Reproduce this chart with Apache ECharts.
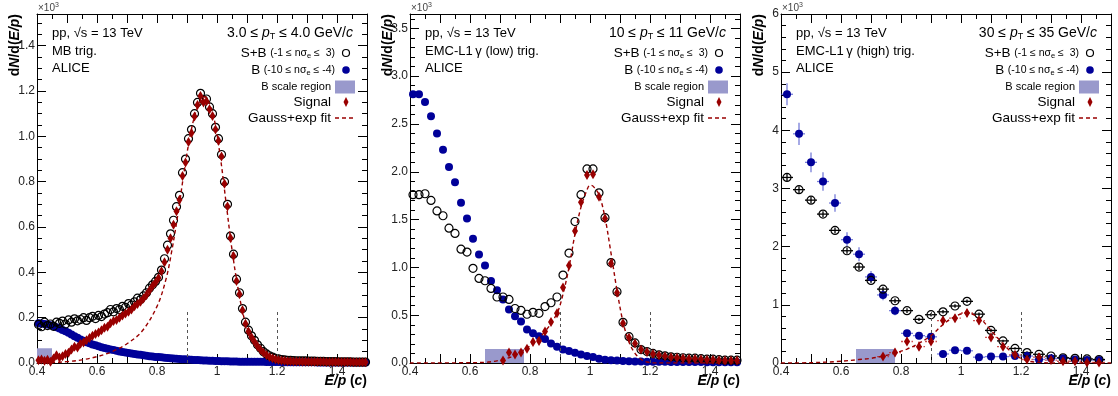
<!DOCTYPE html>
<html>
<head>
<meta charset="utf-8">
<script src="https://cdn.jsdelivr.net/npm/echarts@6/dist/echarts.min.js"></script>
<style>
  html, body { margin: 0; padding: 0; background: #fff; }
  #chart { width: 1118px; height: 396px; }
</style>
</head>
<body>
<div id="chart"></div>
<script>
// ---- data (units of 10^3 counts) ----
const binStart = [0.405, 0.41, 0.42];
const binWidth = [0.01, 0.02, 0.04];

// panel 1: MB trigger, 3 < pT < 4 GeV/c
const sb1 = [
  .170,.160,.180,.165,.172,.162,.180,.175,.185,.172,
  .190,.180,.195,.186,.192,.200,.188,.200,.206,.196,
  .210,.205,.216,.222,.236,.226,.240,.236,.250,.246,
  .262,.256,.270,.286,.280,.296,.310,.330,.345,.360,
  .378,.410,.460,.520,.570,.630,.690,.740,.840,.900,
  .990,1.030,1.100,1.150,1.190,1.160,1.165,1.130,1.100,1.040,
  .990,.920,.800,.700,.560,.480,.370,.310,.240,.180,
  .145,.120,.100,.080,.065,.050,.040,.032,.026,.021,
  .018,.015,.014,.012,.012,.011,.010,.010,.009,.009,
  .008,.008,.008,.007,.007,.007,.006,.006,.006,.006,
  .005,.005,.005,.005,.005,.004,.004,.004,.004,.004
];
const b1 = [
  .175,.174,.172,.170,.167,.163,.158,.152,.146,.140,
  .133,.126,.118,.111,.104,.098,.092,.087,.082,.078,
  .074,.070,.066,.063,.060,.057,.054,.051,.049,.046,
  .044,.042,.040,.038,.036,.034,.032,.030,.029,.027,
  .026,.025,.023,.022,.021,.020,.019,.018,.017,.016,
  .015,.014,.013,.013,.012,.011,.011,.010,.010,.009,
  .009,.008,.008,.008,.007,.007,.007,.006,.006,.006,
  .006,.005,.005,.005,.005,.005,.004,.004,.004,.004,
  .004,.004,.003,.003,.003,.003,.003,.003,.003,.003,
  .003,.003,.003,.002,.002,.002,.002,.002,.002,.002,
  .002,.002,.002,.002,.002,.002,.002,.002,.002,.002
];
const sig1 = [
  .012,.015,.010,.014,.006,.020,.034,.024,.030,.040,
  .045,.060,.072,.068,.085,.090,.100,.110,.120,.128,
  .135,.145,.155,.160,.175,.185,.190,.200,.210,.218,
  .226,.236,.250,.260,.270,.285,.300,.320,.340,.355,
  .375,.405,.445,.500,.550,.610,.670,.720,.825,.885,
  .975,1.015,1.088,1.138,1.178,1.150,1.155,1.120,1.090,1.030,
  .981,.911,.791,.691,.552,.472,.362,.303,.233,.173,
  .139,.114,.094,.074,.059,.045,.035,.027,.021,.016,
  .013,.011,.010,.008,.008,.007,.007,.007,.006,.006,
  .005,.005,.005,.005,.005,.005,.004,.004,.004,.004,
  .004,.004,.004,.004,.004,.003,.003,.003,.003,.003
];
const fit1 = [
  [0.40,0],[0.45,0.002],[0.50,0.006],[0.55,0.014],[0.60,0.028],[0.65,0.05],
  [0.70,0.085],[0.75,0.14],[0.80,0.25],[0.83,0.37],[0.85,0.50],[0.87,0.66],
  [0.89,0.84],[0.91,1.00],[0.93,1.11],[0.95,1.165],[0.96,1.175],[0.97,1.16],
  [0.99,1.08],[1.01,0.92],[1.03,0.71],[1.05,0.50],[1.07,0.33],[1.09,0.20],
  [1.11,0.12],[1.13,0.07],[1.15,0.04],[1.17,0.025],[1.20,0.012],[1.25,0.004],
  [1.30,0.001],[1.50,0]
];

// panel 2: EMC-L1 gamma (low), 10 < pT < 11 GeV/c
const sb2 = [
  1.76,1.76,1.77,1.70,1.59,1.54,1.41,1.355,1.19,1.16,
  0.99,0.885,0.86,0.78,0.69,0.69,0.665,0.57,0.55,0.51,
  0.53,0.52,0.59,0.63,0.69,0.92,1.15,1.48,1.76,2.03,
  2.03,1.78,1.52,1.05,0.745,0.425,0.275,0.21,0.14,0.12,
  0.10,0.085,0.075,0.065,0.06,0.055,0.05,0.05,0.045,0.04,
  0.04,0.035,0.03,0.03,0.03
];
const b2 = [
  2.81,2.81,2.73,2.58,2.40,2.23,2.05,1.89,1.675,1.51,
  1.30,1.135,1.02,0.857,0.76,0.665,0.56,0.49,0.435,0.35,
  0.31,0.28,0.25,0.205,0.17,0.14,0.125,0.108,0.09,0.073,
  0.063,0.045,0.035,0.028,0.025,0.02,0.018,0.016,0.015,0.014,
  0.013,0.012,0.012,0.011,0.011,0.01,0.01,0.01,0.01,0.009,
  0.009,0.009,0.008,0.008,0.008
];
const sig2 = [
  null,null,null,null,null,null,null,null,null,null,
  null,null,null,null,null,0.025,0.11,0.09,0.11,0.15,
  0.22,0.23,0.33,0.43,0.52,0.79,1.02,1.38,1.68,1.965,
  1.975,1.74,1.51,1.04,0.735,0.415,0.265,0.205,0.14,0.115,
  0.095,0.08,0.07,0.06,0.055,0.05,0.045,0.045,0.04,0.035,
  0.035,0.03,0.025,0.025,0.025
];
const fit2 = [
  [0.40,0],[0.60,0.003],[0.66,0.01],[0.70,0.03],[0.75,0.08],[0.80,0.18],
  [0.85,0.33],[0.89,0.52],[0.91,0.72],[0.93,1.0],[0.95,1.35],[0.97,1.63],
  [0.99,1.81],[1.00,1.86],[1.01,1.85],[1.03,1.76],[1.05,1.52],[1.07,1.15],
  [1.09,0.76],[1.11,0.43],[1.13,0.22],[1.15,0.10],[1.17,0.04],[1.19,0.01],
  [1.22,0],[1.50,0]
];

// panel 3: EMC-L1 gamma (high), 30 < pT < 35 GeV/c
const sb3 = [
  3.19,2.98,2.80,2.56,2.28,1.93,1.65,1.42,1.27,
  1.07,0.90,0.75,0.83,0.88,0.98,1.06,0.84,0.56,
  0.38,0.25,0.18,0.15,0.12,0.09,0.08,0.07,0.06
];
const sb3Err = [
  0.06,0.06,0.06,0.05,0.05,0.05,0.05,0.04,0.04,
  0.04,0.04,0.03,0.03,0.03,0.03,0.03,0.03,0.03,
  0.02,0.02,0.02,0.02,0.02,0.02,0.02,0.02,0.02
];
const b3 = [
  4.62,3.94,3.45,3.12,2.75,2.12,1.87,1.48,1.17,
  0.90,0.51,0.47,0.45,0.155,0.22,0.21,0.10,0.11,
  0.11,0.12,0.12,0.06,0.08,0.08,0.06,0.05,0.05
];
const b3Err = [
  0.19,0.19,0.17,0.16,0.15,0.13,0.12,0.10,0.09,
  0.08,0.06,0.06,0.06,0.04,0.04,0.04,0.03,0.03,
  0.03,0.03,0.03,0.02,0.02,0.02,0.02,0.02,0.02
];
const sig3 = [
  null,null,null,null,null,null,null,null,0.11,
  0.18,0.37,0.28,0.37,0.73,0.77,0.86,0.73,0.44,
  0.28,0.14,0.06,0.10,0.05,0.03,0.03,0.01,0.01
];
const sig3Err = [
  0,0,0,0,0,0,0,0,0.06,
  0.07,0.09,0.09,0.09,0.08,0.07,0.07,0.07,0.06,
  0.05,0.05,0.04,0.04,0.04,0.03,0.03,0.03,0.03
];
const fit3 = [
  [0.40,0],[0.50,0.005],[0.60,0.03],[0.66,0.06],[0.70,0.08],[0.74,0.12],
  [0.78,0.17],[0.82,0.24],[0.86,0.34],[0.90,0.47],[0.94,0.66],[0.98,0.80],
  [1.02,0.86],[1.06,0.78],[1.10,0.56],[1.14,0.33],[1.18,0.14],[1.22,0.04],
  [1.26,0.01],[1.30,0],[1.50,0]
];

// per-panel settings
const yMax = [1.54, 3.65, 6];
const yStep = [0.2, 0.5, 1];
const yMinor = [4, 5, 5];
const yDigits = [1, 1, 0];
const scaleRegion = [[0.40, 0.45, 0.065], [0.65, 0.78, 0.146], [0.65, 0.78, 0.24]];
const cutLines = [0.9, 1.2];
const cutHeight = [0.23, 0.55, 0.9];
const trigLabels = ['MB trig.', 'EMC-L1\u2009γ (low) trig.', 'EMC-L1\u2009γ (high) trig.'];
const ptRanges = [['3.0', '4.0'], ['10', '11'], ['30', '35']];

// ---- layout ----
const gridLeft = [37, 410, 781];
const gridWidth = 330;
const gridTop = 14;
const gridHeight = 349;
const FONT = '"Liberation Sans", Arial, Helvetica, sans-serif';
const BLUE = '#000099';
const RED = '#990000';

const chart = echarts.init(document.getElementById('chart'));

const centers = (i, n) =>
  Array.from({ length: n }, (_, k) => +(binStart[i] + k * binWidth[i]).toFixed(4));
const pairs = (xs, ys) =>
  xs.map((x, k) => (ys[k] == null ? null : [x, ys[k]])).filter(Boolean);

const onStep = (v, step) => Math.abs(v / step - Math.round(v / step)) < 1e-6;

const tickStyle = { color: '#000', width: 1 };

const xAxes = [];
const yAxes = [];
[0, 1, 2].forEach(i => {
  xAxes.push({
    type: 'value', gridIndex: i, min: 0.4, max: 1.5, interval: 0.1, position: 'bottom',
    axisLine: { show: true, onZero: false, lineStyle: { color: '#000', width: 1 } },
    axisTick: { show: true, inside: true, length: 9, lineStyle: tickStyle },
    minorTick: { show: true, splitNumber: 2, length: 5, lineStyle: tickStyle },
    splitLine: { show: false },
    axisLabel: {
      color: '#222', fontSize: 12, fontFamily: FONT, margin: 3,
      formatter: v => (onStep(v, 0.2) && v < 1.45 ? String(+v.toFixed(1)) : '')
    }
  });
});
[0, 1, 2].forEach(i => {
  xAxes.push({
    type: 'value', gridIndex: i, min: 0.4, max: 1.5, interval: 0.1, position: 'top',
    axisLine: { show: true, onZero: false, lineStyle: { color: '#000', width: 1 } },
    axisTick: { show: true, inside: true, length: 9, lineStyle: tickStyle },
    minorTick: { show: true, splitNumber: 2, length: 5, lineStyle: tickStyle },
    axisLabel: { show: false },
    splitLine: { show: false }
  });
});
[0, 1, 2].forEach(i => {
  yAxes.push({
    type: 'value', gridIndex: i, min: 0, max: yMax[i], interval: yStep[i], position: 'left',
    axisLine: { show: true, onZero: false, lineStyle: { color: '#000', width: 1 } },
    axisTick: { show: true, inside: true, length: 9, lineStyle: tickStyle },
    minorTick: { show: true, splitNumber: yMinor[i], length: 5, lineStyle: tickStyle },
    splitLine: { show: false },
    axisLabel: {
      color: '#222', fontSize: 12, fontFamily: FONT, margin: 2,
      formatter: v => (onStep(v, yStep[i]) ? v.toFixed(yDigits[i]) : '')
    }
  });
});
[0, 1, 2].forEach(i => {
  yAxes.push({
    type: 'value', gridIndex: i, min: 0, max: yMax[i], interval: yStep[i], position: 'right',
    axisLine: { show: true, onZero: false, lineStyle: { color: '#000', width: 1 } },
    axisTick: { show: true, inside: true, length: 9, lineStyle: tickStyle },
    minorTick: { show: true, splitNumber: yMinor[i], length: 5, lineStyle: tickStyle },
    splitLine: { show: false },
    axisLabel: { show: false }
  });
});

function errorBars(i, xs, ys, halfWidth, errs, color, dash, z) {
  const data = xs.map((x, k) => (ys[k] == null ? null : [x, ys[k], halfWidth, errs[k]])).filter(Boolean);
  return {
    type: 'custom', xAxisIndex: i, yAxisIndex: i, z: z, silent: true, clip: true,
    encode: { x: 0, y: 1 },
    data: data,
    renderItem: (params, api) => {
      const x = api.value(0), y = api.value(1), ex = api.value(2), ey = api.value(3);
      const l = api.coord([x - ex, y]);
      const r = api.coord([x + ex, y]);
      const t = api.coord([x, y + ey]);
      const b = api.coord([x, Math.max(0, y - ey)]);
      const style = { stroke: color, lineWidth: 1.3, lineDash: dash };
      return {
        type: 'group',
        children: [
          { type: 'line', shape: { x1: l[0], y1: l[1], x2: r[0], y2: r[1] }, style: style },
          { type: 'line', shape: { x1: t[0], y1: t[1], x2: b[0], y2: b[1] }, style: style }
        ]
      };
    }
  };
}

function panelSeries(i, sb, b, sig, fit) {
  const xs = centers(i, sb.length);
  return [
    {
      type: 'scatter', xAxisIndex: i, yAxisIndex: i, data: [], z: 1, silent: true,
      markArea: {
        silent: true, itemStyle: { color: '#9999cc' },
        data: [[{ coord: [scaleRegion[i][0], 0] }, { coord: [scaleRegion[i][1], scaleRegion[i][2]] }]]
      },
      markLine: {
        silent: true, symbol: ['none', 'none'], label: { show: false },
        lineStyle: { color: '#555', width: 1, type: [3, 3] },
        data: cutLines.map(c => [{ coord: [c, 0] }, { coord: [c, cutHeight[i]] }])
      }
    },
    {
      type: 'scatter', xAxisIndex: i, yAxisIndex: i, z: 3, silent: true,
      data: pairs(xs, b), symbol: 'circle', symbolSize: 8,
      itemStyle: { color: BLUE, opacity: 1 }
    },
    {
      type: 'scatter', xAxisIndex: i, yAxisIndex: i, z: 4, silent: true,
      data: pairs(xs, sb), symbol: 'circle', symbolSize: 8,
      itemStyle: { color: 'rgba(0,0,0,0)', borderColor: '#000', borderWidth: 1.2, opacity: 1 }
    },
    {
      type: 'scatter', xAxisIndex: i, yAxisIndex: i, z: 5, silent: true,
      data: pairs(xs, sig), symbol: 'diamond', symbolSize: [6, 10],
      itemStyle: { color: RED, opacity: 1 }
    },
    {
      type: 'line', xAxisIndex: i, yAxisIndex: i, z: 6, silent: true,
      data: fit, smooth: 0.35, showSymbol: false, symbol: 'none',
      lineStyle: { color: RED, width: 1.4, type: [4, 3] }
    }
  ];
}

const x3 = centers(2, sb3.length);
const series = [].concat(
  panelSeries(0, sb1, b1, sig1, fit1),
  panelSeries(1, sb2, b2, sig2, fit2),
  panelSeries(2, sb3, b3, sig3, fit3),
  [
    errorBars(2, x3, b3, 0.02, b3Err, 'rgba(60,70,200,0.7)', null, 2),
    errorBars(2, x3, sb3, 0.02, sb3Err, '#000', null, 2),
    errorBars(2, x3, sig3, 0.02, sig3Err, 'rgba(190,40,40,0.8)', [2, 1.5], 2)
  ]
);

function panelGraphics(i) {
  const L = gridLeft[i];
  const R = L + gridWidth;
  const rows = [53, 70, 87, 102, 118];
  const txt = (x, y, text, rich, align, extra) => ({
    type: 'text', x: x, y: y, silent: true,
    style: Object.assign({
      text: text, rich: rich, align: align || 'left', verticalAlign: 'middle',
      fontFamily: FONT, fontSize: 13, fill: '#000'
    }, extra || {})
  });
  const legRich = {
    m: { fontSize: 13.5, fontFamily: FONT, lineHeight: 14 },
    s: { fontSize: 10.5, fontFamily: FONT, lineHeight: 14 },
    e: { fontSize: 7.5, fontFamily: FONT, lineHeight: 5, verticalAlign: 'bottom' }
  };
  return [
    txt(L + 15, 33, 'pp, √s = 13 TeV'),
    txt(L + 15, 51, trigLabels[i]),
    txt(L + 15, 68, 'ALICE'),
    txt(R - 14, 33,
      '{m|' + ptRanges[i][0] + ' ≤ }{i|p}{t|T}{m| ≤ ' + ptRanges[i][1] + ' GeV/}{i|c}',
      {
        m: { fontSize: 14, fontFamily: FONT, lineHeight: 16 },
        i: { fontSize: 14, fontFamily: FONT, fontStyle: 'italic', lineHeight: 16 },
        t: { fontSize: 9, fontFamily: FONT, lineHeight: 6, verticalAlign: 'bottom' }
      }, 'right'),
    txt(R - 32, rows[0], '{m|S+B} {s|(-1 ≤ nσ}{e|e}{s| ≤  3)}', legRich, 'right'),
    { type: 'circle', silent: true, shape: { cx: R - 21, cy: rows[0], r: 3.5 },
      style: { fill: 'none', stroke: '#000', lineWidth: 1.2 } },
    txt(R - 32, rows[1], '{m|B} {s|(-10 ≤ nσ}{e|e}{s| ≤ -4)}', legRich, 'right'),
    { type: 'circle', silent: true, shape: { cx: R - 21, cy: rows[1], r: 3.8 },
      style: { fill: BLUE } },
    txt(R - 36, rows[2], 'B scale region', null, 'right', { fontSize: 11 }),
    { type: 'rect', silent: true, shape: { x: R - 32, y: rows[2] - 6.5, width: 20, height: 13 },
      style: { fill: '#9999cc' } },
    txt(R - 36, rows[3], 'Signal', null, 'right', { fontSize: 13.5 }),
    { type: 'polygon', silent: true,
      shape: { points: [[R - 21, rows[3] - 5], [R - 18.5, rows[3]], [R - 21, rows[3] + 5], [R - 23.5, rows[3]]] },
      style: { fill: RED } },
    txt(R - 36, rows[4], 'Gauss+exp fit', null, 'right', { fontSize: 13.5 }),
    { type: 'line', silent: true, shape: { x1: R - 32, y1: rows[4], x2: R - 12, y2: rows[4] },
      style: { stroke: RED, lineWidth: 1.4, lineDash: [4, 3] } },
    // y axis title
    {
      type: 'text', x: L - 22, y: 14, rotation: Math.PI / 2, silent: true,
      style: {
        text: '{r|d}{i|N}{r|/d(}{i|E/p}{r|)}', align: 'right', verticalAlign: 'middle',
        rich: {
          r: { fontSize: 14, fontWeight: 'bold', fontFamily: FONT },
          i: { fontSize: 14, fontWeight: 'bold', fontStyle: 'italic', fontFamily: FONT }
        }
      }
    },
    // exponent marker
    txt(L + 1, 8, '{a|×10}{p|3}', {
      a: { fontSize: 10, fontFamily: FONT, fill: '#444', lineHeight: 12 },
      p: { fontSize: 7, fontFamily: FONT, fill: '#444', lineHeight: 6, verticalAlign: 'top' }
    }, 'left'),
    // x axis title
    txt(R, 381, '{i|E/p} {r|(}{i|c}{r|)}', {
      r: { fontSize: 14, fontWeight: 'bold', fontFamily: FONT },
      i: { fontSize: 14, fontWeight: 'bold', fontStyle: 'italic', fontFamily: FONT }
    }, 'right')
  ];
}

chart.setOption({
  animation: false,
  backgroundColor: '#fff',
  textStyle: { fontFamily: FONT },
  grid: gridLeft.map(l => ({
    left: l, top: gridTop, width: gridWidth, height: gridHeight,
    containLabel: false, outerBoundsMode: 'none'
  })),
  xAxis: xAxes,
  yAxis: yAxes,
  series: series,
  graphic: [].concat(panelGraphics(0), panelGraphics(1), panelGraphics(2))
});

window.addEventListener('resize', () => chart.resize());
</script>
</body>
</html>
